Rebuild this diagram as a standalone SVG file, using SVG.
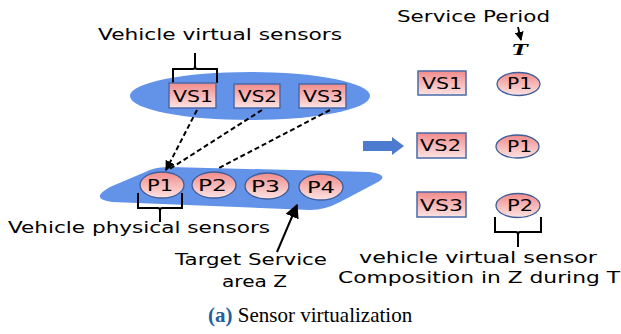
<svg xmlns="http://www.w3.org/2000/svg" width="621" height="334" viewBox="0 0 621 334">
<defs>
<linearGradient id="pink" x1="0" y1="0" x2="0" y2="1">
<stop offset="0" stop-color="#F28B8B"/>
<stop offset="1" stop-color="#FDE3E3"/>
</linearGradient>
<marker id="ah" viewBox="0 0 10 10" refX="9" refY="5" markerWidth="7" markerHeight="7" orient="auto-start-reverse">
<path d="M0,0 L10,5 L0,10 z" fill="#000"/>
</marker>
<marker id="ahs" viewBox="0 0 10 10" refX="9" refY="5" markerWidth="5" markerHeight="5" orient="auto">
<path d="M0,0 L10,5 L0,10 z" fill="#000"/>
</marker>
</defs>
<style>
.t{font-family:"DejaVu Sans",Verdana,sans-serif;font-size:16px;fill:#000}
.box{fill:url(#pink);stroke:#4A6AA8;stroke-width:1.5}
.pc{fill:url(#pink);stroke:#3E5E9A;stroke-width:1.3}
.plane{fill:#6393E8}
.brace{fill:none;stroke:#000;stroke-width:2}
.dash{fill:none;stroke:#000;stroke-width:2;stroke-dasharray:5,3}
.cap{font-family:"Liberation Serif","Times New Roman",serif;font-size:21px}
</style>

<g id="planes">
<ellipse class="plane" cx="250" cy="96" rx="120" ry="24"/>
<path class="plane" d="M100,197 Q98,194 110,187 L150,170 Q157,167 170,167 L370,172 Q390,175 378,182 L340,202 Q325,210 310,210 L112,202 Q100,200 100,197 Z"/>
</g>

<g id="labels-left">
<text class="t" x="98" y="40" textLength="244" lengthAdjust="spacingAndGlyphs">Vehicle virtual sensors</text>
<path class="brace" d="M173,83 V69 H193 Q195,69 195,66 V53 M195,66 Q195,69 197,69 H217 V83"/>
<text class="t" x="8" y="233" textLength="262" lengthAdjust="spacingAndGlyphs">Vehicle physical sensors</text>
<path class="brace" d="M138,193 V208 H158 Q160,208 160,211 V222 M160,211 Q160,208 162,208 H182 V193"/>
<text class="t" x="175" y="265" textLength="152" lengthAdjust="spacingAndGlyphs">Target Service</text>
<text class="t" x="222" y="287" textLength="65" lengthAdjust="spacingAndGlyphs">area Z</text>
</g>

<g id="vs1-top"><rect class="box" x="169" y="83" width="47" height="25"/><text class="t" x="173" y="102" textLength="40" lengthAdjust="spacingAndGlyphs">VS1</text></g>
<g id="vs2-top"><rect class="box" x="234" y="84" width="46" height="24"/><text class="t" x="238" y="102" textLength="39" lengthAdjust="spacingAndGlyphs">VS2</text></g>
<g id="vs3-top"><rect class="box" x="299" y="84" width="47" height="24"/><text class="t" x="303" y="102" textLength="40" lengthAdjust="spacingAndGlyphs">VS3</text></g>

<g id="p1-bottom"><ellipse class="pc" cx="162" cy="185" rx="22" ry="13"/><text class="t" x="147" y="191" textLength="26" lengthAdjust="spacingAndGlyphs">P1</text></g>
<g id="p2-bottom"><ellipse class="pc" cx="214" cy="185" rx="22" ry="13"/><text class="t" x="198" y="191" textLength="29" lengthAdjust="spacingAndGlyphs">P2</text></g>
<g id="p3-bottom"><ellipse class="pc" cx="267" cy="186" rx="22" ry="13"/><text class="t" x="251" y="192" textLength="29" lengthAdjust="spacingAndGlyphs">P3</text></g>
<g id="p4-bottom"><ellipse class="pc" cx="321" cy="187" rx="22" ry="13"/><text class="t" x="307" y="193" textLength="28" lengthAdjust="spacingAndGlyphs">P4</text></g>

<g id="connectors">
<line class="dash" x1="197" y1="110" x2="166" y2="170" marker-end="url(#ahs)"/>
<line class="dash" x1="262" y1="110" x2="168" y2="170"/>
<line class="dash" x1="330" y1="110" x2="217" y2="169"/>
<line x1="277" y1="252" x2="297" y2="205" stroke="#000" stroke-width="2" marker-end="url(#ah)"/>
<line x1="518" y1="27" x2="521" y2="40" stroke="#000" stroke-width="1.8" marker-end="url(#ahs)"/>
<path d="M363,141 H392 V137 L404,146 L392,155 V151 H363 Z" fill="#4C7BD0"/>
</g>

<g id="labels-right">
<text class="t" x="397" y="22" textLength="153" lengthAdjust="spacingAndGlyphs">Service Period</text>
<text x="511" y="55" font-family="Liberation Serif,serif" font-size="17" font-weight="bold" font-style="italic" textLength="17" lengthAdjust="spacingAndGlyphs">T</text>
<path class="brace" d="M495,217 V232 H516 Q518,232 518,235 V247 M518,235 Q518,232 520,232 H541 V217"/>
<text class="t" x="359" y="263" textLength="238" lengthAdjust="spacingAndGlyphs">vehicle virtual sensor</text>
<text class="t" x="338" y="283" textLength="282" lengthAdjust="spacingAndGlyphs">Composition in Z during T</text>
</g>

<g id="vs1-right"><rect class="box" x="418" y="71" width="48" height="24"/><text class="t" x="422" y="89" textLength="40" lengthAdjust="spacingAndGlyphs">VS1</text></g>
<g id="vs2-right"><rect class="box" x="417" y="133" width="49" height="25"/><text class="t" x="420" y="151" textLength="41" lengthAdjust="spacingAndGlyphs">VS2</text></g>
<g id="vs3-right"><rect class="box" x="417" y="192" width="49" height="25"/><text class="t" x="420" y="211" textLength="43" lengthAdjust="spacingAndGlyphs">VS3</text></g>

<g id="p1-right"><ellipse class="pc" cx="518.5" cy="84" rx="21.5" ry="11.5"/><text class="t" x="507" y="89" textLength="25" lengthAdjust="spacingAndGlyphs">P1</text></g>
<g id="p1b-right"><ellipse class="pc" cx="517.5" cy="146.5" rx="21.5" ry="11.5"/><text class="t" x="507" y="152" textLength="25" lengthAdjust="spacingAndGlyphs">P1</text></g>
<g id="p2-right"><ellipse class="pc" cx="518" cy="205.5" rx="22" ry="12"/><text class="t" x="507" y="211" textLength="26" lengthAdjust="spacingAndGlyphs">P2</text></g>

<g id="caption">
<text class="cap" x="208" y="322"><tspan font-weight="bold" fill="#1F5FA0">(a)</tspan> Sensor virtualization</text>
</g>
</svg>
